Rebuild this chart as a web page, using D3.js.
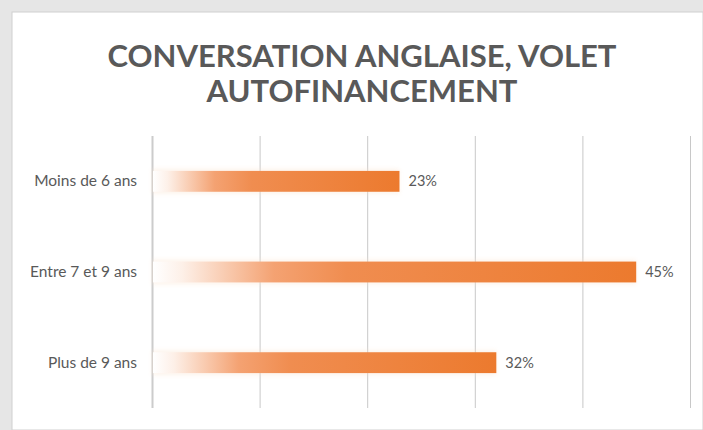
<!DOCTYPE html>
<html><head><meta charset="utf-8">
<script src="https://cdn.jsdelivr.net/npm/d3@7"></script>
<style>html,body{margin:0;padding:0;background:#e6e6e6;}svg{display:block;}</style>
</head><body>
<script>
const titleLines = ["CONVERSATION ANGLAISE, VOLET", "AUTOFINANCEMENT"];
const categories = ["Moins de 6 ans", "Entre 7 et 9 ans", "Plus de 9 ans"];
const values = [0.23, 0.45, 0.32];
const tickValues = [0, 0.1, 0.2, 0.3, 0.4, 0.5];

const W = 703, H = 430;
const svg = d3.select("body").append("svg").attr("width", W).attr("height", H);

// spreadsheet-like backdrop
svg.append("rect").attr("width", W).attr("height", H).attr("fill", "#e6e6e6");
svg.append("rect").attr("x", 12).attr("y", 12).attr("width", W - 12).attr("height", H - 12)
  .attr("fill", "#ffffff").attr("stroke", "#d0d0d0").attr("stroke-width", 1);

const defs = svg.append("defs");
const grad = defs.append("linearGradient").attr("id", "barGrad")
  .attr("x1", "0%").attr("x2", "100%").attr("y1", "0%").attr("y2", "0%");
grad.append("stop").attr("offset", "0%").attr("stop-color", "#ffffff").attr("stop-opacity", 1);
grad.append("stop").attr("offset", "6%").attr("stop-color", "#fdf0e8");
grad.append("stop").attr("offset", "25%").attr("stop-color", "#f4a272");
grad.append("stop").attr("offset", "40%").attr("stop-color", "#f08d50");
grad.append("stop").attr("offset", "100%").attr("stop-color", "#ec7a2e");

const blur = defs.append("filter").attr("id", "glow").attr("x", "-5%").attr("y", "-40%").attr("width", "110%").attr("height", "180%");
blur.append("feGaussianBlur").attr("stdDeviation", 2);

// title
svg.append("g").selectAll("text").data(titleLines).join("text")
  .attr("x", 362).attr("y", (d, i) => 67 + i * 35)
  .attr("text-anchor", "middle")
  .attr("font-family", "Lato, 'Open Sans', sans-serif")
  .attr("font-weight", "bold").attr("font-size", 31)
  .attr("fill", "#595959")
  .text(d => d);

const x = d3.scaleLinear().domain([0, 0.5]).range([152, 690]);
const y = d3.scaleBand().domain(categories).range([136, 408]).paddingInner(0.77).paddingOuter(0.385);

// gridlines via axis
const gx = svg.append("g").attr("transform", "translate(0,136)")
  .call(d3.axisBottom(x).tickValues(tickValues).tickSize(272).tickFormat(""));
gx.select(".domain").remove();
gx.selectAll(".tick line").attr("stroke", "#c8c8c8").attr("stroke-width", 1);
gx.selectAll(".tick").filter(d => d === 0).select("line").attr("stroke", "#cccccc").attr("stroke-width", 2);

// category labels via axis
const gy = svg.append("g").attr("transform", "translate(139,0)")
  .call(d3.axisLeft(y).tickSize(0).tickPadding(2));
gy.select(".domain").remove();
gy.selectAll("text").attr("font-family", "Lato, 'Open Sans', sans-serif")
  .attr("font-size", 15.5).attr("fill", "#595959");

const data = categories.map((c, i) => ({c, v: values[i]}));

// soft glow behind bars
svg.append("g").selectAll("rect").data(data).join("rect")
  .attr("x", x(0)).attr("y", d => y(d.c) - 2)
  .attr("width", d => x(d.v) - x(0)).attr("height", y.bandwidth() + 4)
  .attr("fill", "#fbe3cf").attr("opacity", 0.4).attr("filter", "url(#glow)");

svg.append("g").selectAll("rect").data(data).join("rect")
  .attr("x", x(0) + 1).attr("y", d => y(d.c))
  .attr("width", d => x(d.v) - x(0) - 1).attr("height", y.bandwidth())
  .attr("fill", "url(#barGrad)");

svg.append("g").selectAll("text").data(data).join("text")
  .attr("x", d => x(d.v) + 9).attr("y", d => y(d.c) + y.bandwidth() / 2)
  .attr("dy", "0.35em")
  .attr("font-family", "Lato, 'Open Sans', sans-serif")
  .attr("font-size", 14.5).attr("fill", "#595959")
  .text(d => d3.format(".0%")(d.v));
</script>
</body></html>
